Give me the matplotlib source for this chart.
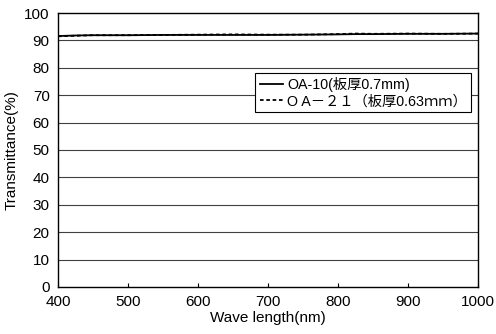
import matplotlib
matplotlib.use('Agg')
import matplotlib.pyplot as plt

# data
wave = [400, 425, 450, 500, 550, 600, 650, 700, 750, 800, 825, 850, 900, 950, 1000]
oa10 = [91.6, 91.8, 91.9, 91.9, 92.0, 92.0, 92.0, 92.0, 92.1, 92.2, 92.3, 92.3, 92.4, 92.4, 92.5]
oa21 = [91.5, 91.7, 91.9, 91.9, 92.0, 92.1, 92.2, 92.1, 92.1, 92.3, 92.5, 92.4, 92.5, 92.4, 92.5]
xticks = [400, 500, 600, 700, 800, 900, 1000]
yticks = [0, 10, 20, 30, 40, 50, 60, 70, 80, 90, 100]

plt.rcParams['font.family'] = ['Liberation Sans', 'Noto Sans CJK JP', 'DejaVu Sans']

fig = plt.figure(figsize=(4.96, 3.34), dpi=100)
ax = fig.add_axes([0.117, 0.141, 0.847, 0.820])

for y in yticks[1:-1]:
    ax.axhline(y, color='#404040', lw=0.8, zorder=1)

ax.plot(wave, oa10, color='black', lw=1.3, ls='-', label='OA-10(板厚0.7mm)', zorder=3)
ax.plot(wave, oa21, color='black', lw=1.3, ls=(0, (2, 1.5)), label='O A－２１（板厚0.63ｍｍ）', zorder=3)

ax.set_xlim(400, 1000)
ax.set_ylim(0, 100)
ax.set_xticks(xticks)
ax.set_yticks(yticks)
ax.tick_params(axis='x', direction='in', length=3, labelsize=11, pad=6)
ax.tick_params(axis='y', length=0, labelsize=11, pad=6)
for s in ax.spines.values():
    s.set_linewidth(1.0)

ax.set_xlabel('Wave length(nm)', fontsize=11, labelpad=1)
ax.set_ylabel('Transmittance(%)', fontsize=11, labelpad=4)

leg = ax.legend(loc='upper right', bbox_to_anchor=(0.983, 0.782), borderaxespad=0, fontsize=10.3,
                frameon=True, fancybox=False, edgecolor='black', framealpha=1,
                handlelength=1.6, handletextpad=0.3, borderpad=0.3, labelspacing=0.15)
leg.get_frame().set_linewidth(0.8)

fig.savefig('out.png', dpi=100)
